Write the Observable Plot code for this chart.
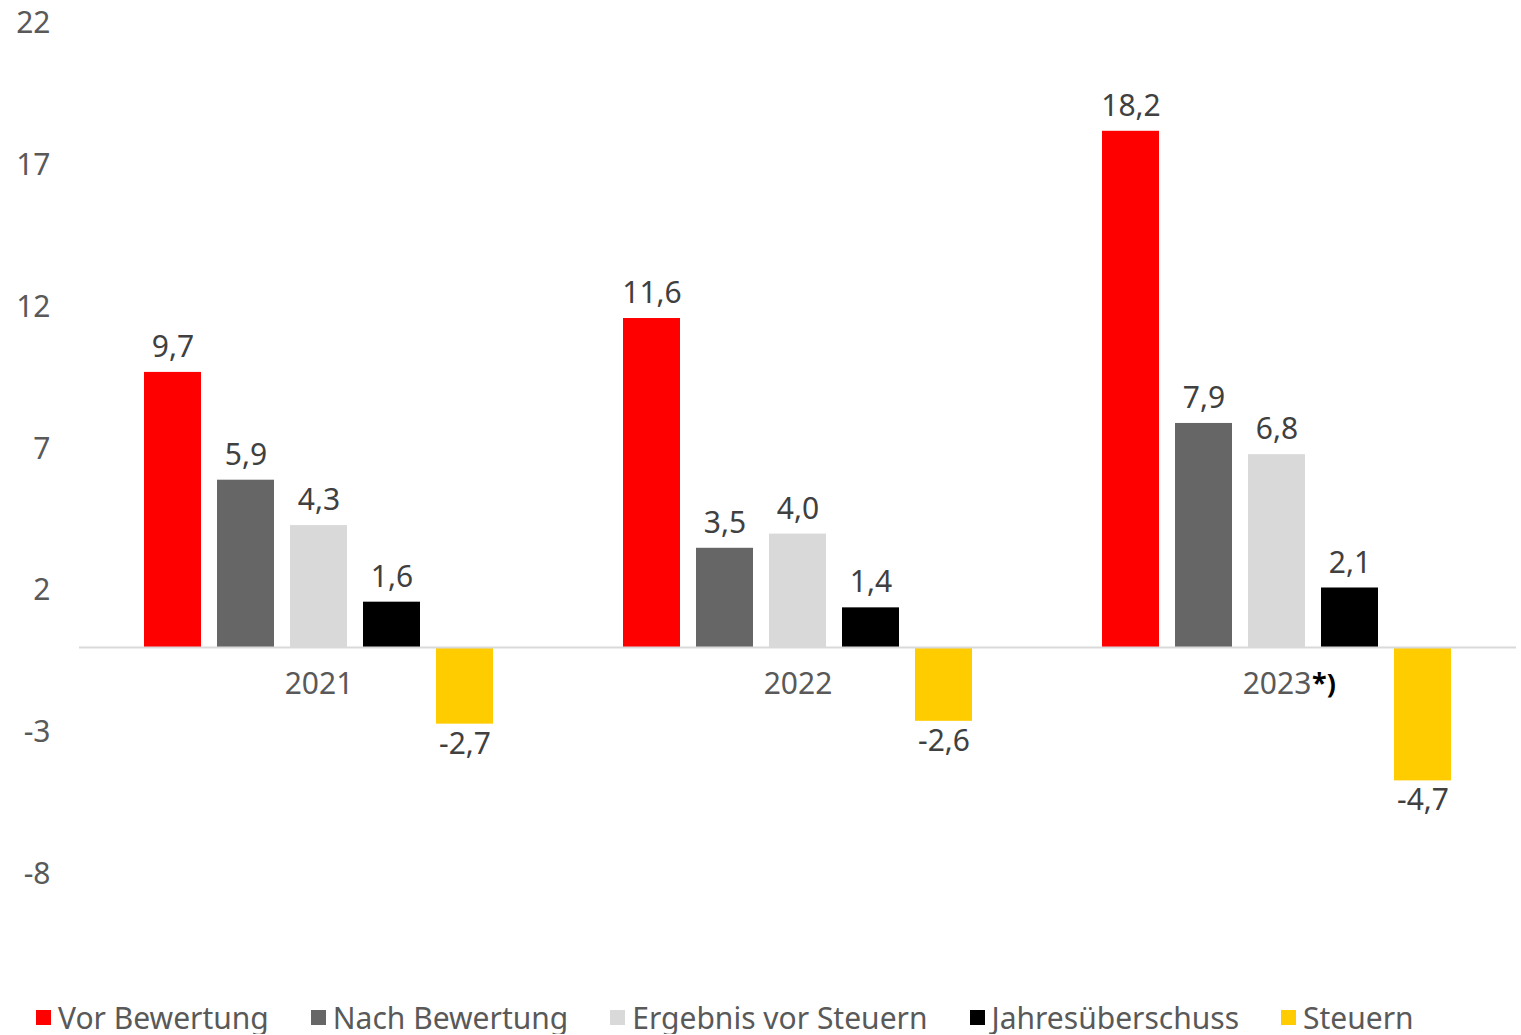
<!DOCTYPE html>
<html><head><meta charset="utf-8">
<script src="https://cdn.jsdelivr.net/npm/d3@7"></script>
<script src="https://cdn.jsdelivr.net/npm/@observablehq/plot@0.6"></script>
<style>
body{margin:0;background:#fff;font-family:"Noto Sans",sans-serif;}
#legend{display:flex;align-items:center;padding-left:36px;margin-top:40px;height:34px;font-size:30px;color:#595959;}
.item{display:flex;align-items:center;margin-right:42px;white-space:nowrap;}
.sw{width:15px;height:15px;margin-right:7px;flex:none;}
</style></head><body><div id="chart"></div><div id="legend"></div>
<script>
const years = ["2021", "2022", "2023"];
const series = ["Vor Bewertung", "Nach Bewertung", "Ergebnis vor Steuern", "Jahresüberschuss", "Steuern"];
const colors = ["#ff0000", "#666666", "#d9d9d9", "#000000", "#ffcc00"];
const vorBewertung = [9.7, 11.6, 18.2];
const nachBewertung = [5.9, 3.5, 7.9];
const ergebnisVorSteuern = [4.3, 4.0, 6.8];
const jahresueberschuss = [1.6, 1.4, 2.1];
const steuern = [-2.7, -2.6, -4.7];
const yTicks = [-8, -3, 2, 7, 12, 17, 22];
const footnotes = [{year: "2023", text: "*)"}];

const seriesValues = [vorBewertung, nachBewertung, ergebnisVorSteuern, jahresueberschuss, steuern];
const data = [];
years.forEach((yr, i) => series.forEach((s, j) => data.push({year: yr, series: s, value: seriesValues[j][i]})));
const fmt = v => v.toFixed(1).replace(".", ",");
const pos = data.filter(d => d.value >= 0);
const neg = data.filter(d => d.value < 0);

const chart = Plot.plot({
  width: 1521,
  height: 960,
  marginTop: 23,
  marginBottom: 86,
  marginLeft: 79,
  marginRight: 5,
  style: {fontFamily: "Noto Sans", fontSize: "30px", background: "#fff"},
  fx: {domain: years, paddingInner: 0, paddingOuter: 0, axis: null, label: null},
  x: {domain: series, paddingInner: 0.226, paddingOuter: 0.867, axis: null},
  y: {domain: [-8, 22], ticks: yTicks, tickFormat: d => String(d), tickSize: 0, tickPadding: 29, label: null},
  color: {domain: series, range: colors},
  marks: [
    Plot.axisY({ticks: yTicks, tickFormat: d => String(d), tickSize: 0, tickPadding: 29, label: null, fill: "#595959", fontSize: 30}),
    Plot.barY(data, {fx: "year", x: "series", y: "value", fill: "series"}),
    Plot.ruleY([0], {stroke: "#d9d9d9", strokeWidth: 2}),
    Plot.text(pos, {fx: "year", x: "series", y: "value", text: d => fmt(d.value), dy: -25, fill: "#404040", fontSize: 30}),
    Plot.text(neg, {fx: "year", x: "series", y: "value", text: d => fmt(d.value), dy: 20, fill: "#404040", fontSize: 30}),
    Plot.text(years, {fx: d => d, y: 0, text: d => d, dy: 37, fill: "#595959", fontSize: 30}),
    Plot.text(footnotes, {fx: "year", y: 0, text: "text", dy: 37, dx: 35, textAnchor: "start", fill: "#000", fontWeight: "bold", fontSize: 27})
  ]
});
document.getElementById("chart").appendChild(chart);

const legend = d3.select("#legend");
series.forEach((s, i) => {
  const it = legend.append("div").attr("class", "item");
  it.append("div").attr("class", "sw").style("background", colors[i]);
  it.append("span").text(s);
});
</script></body></html>
